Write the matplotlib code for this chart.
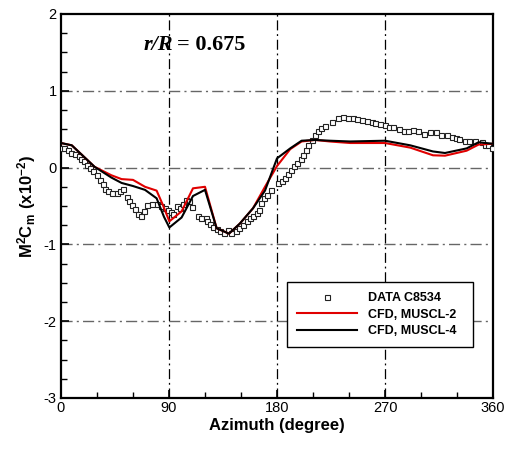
import matplotlib
matplotlib.use("Agg")
import matplotlib.pyplot as plt
from matplotlib.ticker import MultipleLocator

plt.rcParams['font.family'] = ['Liberation Sans', 'DejaVu Sans']
plt.rcParams['mathtext.fontset'] = 'custom'
plt.rcParams['mathtext.bf'] = 'Liberation Sans:bold'
plt.rcParams['mathtext.rm'] = 'Liberation Sans:bold'
plt.rcParams['axes.unicode_minus'] = False

# ---- data ----
data_az = [0.5, 2.5, 5.6, 8.3, 11.7, 15, 17, 19.4, 21.4, 24, 27, 29.7, 32.5, 35, 37, 39.4,
           42.8, 46.4, 49, 51.4, 54.7, 56.7, 59.4, 61.7, 64, 66.7, 69.4, 72, 76, 79.7,
           83, 86.7, 89.4, 91.5, 93, 96.4, 99, 102, 104, 107, 109, 114.4, 116.4, 121,
           122, 124, 127, 130, 132.5, 136, 139.4, 142, 146, 148.6, 151.4, 154.7, 157.5,
           160, 163, 165, 167, 169, 172, 174.7, 181, 184, 186.7, 189, 191.7, 194.4, 197,
           199.7, 202, 204, 206, 209, 211.7, 214.4, 217, 220, 225.6, 231, 235, 239.4,
           243.6, 247, 250.5, 254.7, 259, 261.7, 265.8, 270, 273.6, 277, 282, 286,
           289.4, 293, 297.8, 302.8, 307.5, 312.5, 317, 321.4, 325.6, 329, 332, 336.7,
           340, 345, 350.6, 353, 356, 359]
data_cm = [0.25, 0.25, 0.23, 0.19, 0.18, 0.15, 0.11, 0.08, 0.03, -0.01, -0.05, -0.10, -0.16,
           -0.21, -0.28, -0.31, -0.33, -0.33, -0.30, -0.28, -0.38, -0.43, -0.49, -0.54,
           -0.60, -0.63, -0.57, -0.49, -0.47, -0.48, -0.50, -0.53, -0.55, -0.58, -0.60,
           -0.50, -0.52, -0.47, -0.42, -0.44, -0.51, -0.63, -0.65, -0.65, -0.69, -0.73,
           -0.78, -0.80, -0.82, -0.85, -0.81, -0.85, -0.82, -0.79, -0.75, -0.70, -0.66,
           -0.63, -0.59, -0.55, -0.46, -0.40, -0.36, -0.29, -0.20, -0.17, -0.14, -0.08,
           -0.03, 0.02, 0.06, 0.11, 0.16, 0.23, 0.29, 0.36, 0.42, 0.48, 0.51, 0.54, 0.60,
           0.64, 0.66, 0.65, 0.64, 0.63, 0.62, 0.61, 0.60, 0.58, 0.57, 0.55, 0.53, 0.53,
           0.50, 0.48, 0.48, 0.49, 0.47, 0.44, 0.46, 0.46, 0.43, 0.42, 0.40, 0.39, 0.37,
           0.34, 0.35, 0.34, 0.33, 0.30, 0.29, 0.25]

m2_az = [0, 9, 28, 42, 50.5, 60, 70, 79.7, 85, 90.3, 100.5, 110, 120, 129.7, 140, 149,
         160, 170, 180, 191, 200.5, 211.7, 224, 241, 270, 291, 310, 320, 338, 348, 360]
m2_cm = [0.32, 0.29, 0.01, -0.10, -0.15, -0.16, -0.25, -0.30, -0.49, -0.70, -0.57, -0.27,
         -0.25, -0.79, -0.86, -0.73, -0.53, -0.25, 0.02, 0.24, 0.34, 0.36, 0.34, 0.32,
         0.32, 0.26, 0.16, 0.155, 0.22, 0.30, 0.31]

m4_az = [0, 9, 28, 42, 50.5, 60, 70, 79.7, 85.8, 90.3, 100.5, 110, 120, 129.7, 140, 149,
         160, 170, 180, 191, 200.5, 211.7, 224, 241, 270, 291, 310, 320, 338, 348, 360]
m4_cm = [0.32, 0.29, 0.01, -0.13, -0.20, -0.24, -0.29, -0.40, -0.64, -0.78, -0.65, -0.37,
         -0.29, -0.79, -0.86, -0.73, -0.53, -0.30, 0.12, 0.25, 0.35, 0.36, 0.35, 0.34,
         0.35, 0.29, 0.21, 0.19, 0.25, 0.33, 0.31]

fig = plt.figure(figsize=(5.09, 4.5), dpi=100)
ax = fig.add_axes([0.1198, 0.1156, 0.8488, 0.8533])

# grid
for yv in [1, 0, -1, -2]:
    ax.axhline(yv, color='#666666', lw=1.0, ls=(0, (8, 3, 1.5, 3)), zorder=1)
for xv in [90, 180, 270]:
    ax.axvline(xv, color='black', lw=0.9, ls=(0, (8, 3, 1.5, 3)), zorder=1)

ax.plot(data_az, data_cm, ls='none', marker='s', ms=3.6, mfc='white', mec='#222222',
        mew=0.8, label='DATA C8534', zorder=3)
ax.plot(m2_az, m2_cm, color='#e00000', lw=1.5, label='CFD, MUSCL-2', zorder=4)
ax.plot(m4_az, m4_cm, color='black', lw=1.5, label='CFD, MUSCL-4', zorder=5)

ax.set_xlim(0, 360)
ax.set_ylim(-3, 2)
ax.xaxis.set_major_locator(MultipleLocator(90))
ax.xaxis.set_minor_locator(MultipleLocator(30))
ax.yaxis.set_major_locator(MultipleLocator(1))
ax.yaxis.set_minor_locator(MultipleLocator(0.25))
ax.tick_params(which='both', direction='in', top=False, right=False, labelsize=10.5)
ax.tick_params(which='major', length=6, width=1.2)
ax.tick_params(which='minor', length=4, width=1.0)
ax.tick_params(axis='x', pad=2)
ax.tick_params(axis='y', pad=3)
for s in ax.spines.values():
    s.set_linewidth(1.6)

ax.set_xlabel('Azimuth (degree)', fontsize=12, fontweight='bold', labelpad=2)
ax.set_ylabel(r'$\mathbf{M^2C_m\ (x10^{-2})}$', fontsize=12, labelpad=4)

ax.text(93.5, 1.6, 'r/R', ha='right', va='center', fontsize=16, fontweight='bold',
        fontstyle='italic', family='Liberation Serif')
ax.text(96.5, 1.6, '= 0.675', ha='left', va='center', fontsize=16, fontweight='bold',
        family='Liberation Serif')

leg = ax.legend(loc='lower left', bbox_to_anchor=(0.523, 0.133, 0.43, 0.177), mode='expand',
                prop={'weight': 'bold', 'size': 9}, numpoints=1, handlelength=4.8,
                handletextpad=0.9, labelspacing=0.35, borderaxespad=0, fancybox=False,
                framealpha=1, edgecolor='black', borderpad=0.8)
leg.get_frame().set_linewidth(1.0)

fig.savefig('out.png', dpi=100)
